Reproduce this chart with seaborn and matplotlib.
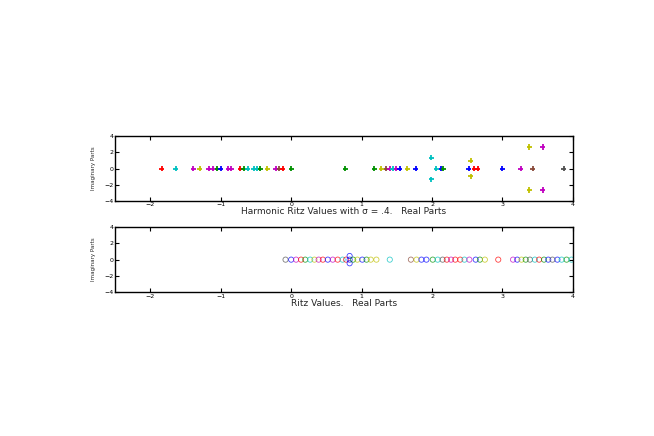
import seaborn as sns
import matplotlib.pyplot as plt
import pandas as pd

# harmonic Ritz values (top panel)
harm_re = [-1.84, -1.64, -1.39, -1.30, -1.17, -1.11, -1.05, -1.00, -0.89, -0.85,
           -0.72, -0.67, -0.62, -0.53, -0.48, -0.44, -0.34, -0.22, -0.17, -0.12,
           0.00, 0.77, 1.18, 1.28, 1.35, 1.40, 1.44, 1.49, 1.54, 1.65,
           1.77, 1.99, 1.99, 2.06, 2.13, 2.16, 2.52, 2.55, 2.55, 2.60,
           2.65, 3.00, 3.26, 3.38, 3.38, 3.43, 3.57, 3.57, 3.87]
harm_im = [0, 0, 0, 0, 0, 0, 0, 0, 0, 0,
           0, 0, 0, 0, 0, 0, 0, 0, 0, 0,
           0, 0, 0, 0, 0, 0, 0, 0, 0, 0,
           0, 1.35, -1.35, 0, 0, 0, 0, 0.95, -0.95, 0,
           0, 0, 0, 2.65, -2.65, 0, 2.65, -2.65, 0]
harm_col = ['r', 'c', 'm', 'y', 'm', 'm', 'g', 'b', 'm', 'm',
            'r', 'g', 'c', 'c', 'c', 'g', 'y', 'm', 'n', 'r',
            'g', 'g', 'g', 'y', 'n', 'm', 'c', 'm', 'b', 'y',
            'b', 'c', 'c', 'c', 'b', 'g', 'b', 'y', 'y', 'r',
            'r', 'b', 'm', 'y', 'y', 'n', 'm', 'm', 'k']

# Ritz values (bottom panel)
ritz_re = [-0.08, 0.00, 0.07, 0.14, 0.20, 0.27, 0.33, 0.39, 0.45, 0.52,
           0.59, 0.66, 0.73, 0.78, 0.83, 0.83, 0.83, 0.88, 0.94, 1.01,
           1.07, 1.13, 1.21, 1.40, 1.70, 1.78, 1.85, 1.92, 2.01, 2.08,
           2.15, 2.21, 2.27, 2.33, 2.40, 2.46, 2.53, 2.62, 2.68, 2.75,
           2.94, 3.15, 3.21, 3.27, 3.33, 3.39, 3.46, 3.52, 3.59, 3.65,
           3.71, 3.78, 3.84, 3.91, 3.98]
ritz_im = [0] * 14 + [0.45, 0, -0.45] + [0] * 38
ritz_col = ['k', 'b', 'm', 'r', 'g', 'c', 'y', 'm', 'r', 'b',
            'm', 'r', 'c', 'r', 'b', 'b', 'b', 'g', 'y', 'b',
            'g', 'y', 'y', 'c', 'n', 'y', 'b', 'b', 'g', 'c',
            'k', 'r', 'm', 'r', 'r', 'c', 'm', 'b', 'g', 'y',
            'r', 'm', 'b', 'y', 'g', 'k', 'c', 'r', 'g', 'b',
            'k', 'b', 'c', 'g', 'c']

palette = {
    'b': '#0000ff', 'g': '#009000', 'r': '#ff0000', 'c': '#00c0c0',
    'm': '#c000c0', 'y': '#c0c000', 'k': '#505050', 'n': '#8a4a3a',
}

sns.set_theme(style="ticks")
plt.rcParams['font.family'] = ['DejaVu Sans']

fig = plt.figure(figsize=(6.54, 4.36), dpi=100)
ax1 = fig.add_axes([0.176, 0.539, 0.700, 0.149])
ax2 = fig.add_axes([0.176, 0.330, 0.700, 0.149])

top = pd.DataFrame({'re': harm_re, 'im': harm_im, 'c': harm_col})
bot = pd.DataFrame({'re': ritz_re, 'im': ritz_im, 'c': ritz_col})

sns.scatterplot(data=top, x='re', y='im', hue='c', palette=palette,
                marker='+', s=14, linewidth=1.3, legend=False, ax=ax1)
sns.scatterplot(data=bot, x='re', y='im', hue='c', palette=palette,
                marker='o', s=14, linewidth=0.6, legend=False, ax=ax2)
# open circles: move the hue colours to the edges
coll = ax2.collections[0]
coll.set_edgecolors(coll.get_facecolors())
coll.set_facecolors('none')
coll.set_alpha(0.75)

xlabels = ['Harmonic Ritz Values with σ = .4.   Real Parts',
           'Ritz Values.   Real Parts']
for ax, xl in zip([ax1, ax2], xlabels):
    ax.set_xlim(-2.5, 4)
    ax.set_ylim(-4, 4)
    ax.set_xticks([-2, -1, 0, 1, 2, 3, 4])
    ax.set_yticks([-4, -2, 0, 2, 4])
    ax.tick_params(direction='in', top=True, right=True, length=3,
                   width=0.8, labelsize=4.5, pad=1, colors='black')
    for sp in ax.spines.values():
        sp.set_visible(True)
        sp.set_color('black')
        sp.set_linewidth(1.0)
    ax.set_xlabel(xl, fontsize=6.5, labelpad=0)
    ax.set_ylabel('Imaginary Parts', fontsize=4, labelpad=6)

fig.savefig('out.png', dpi=100, facecolor='white')
